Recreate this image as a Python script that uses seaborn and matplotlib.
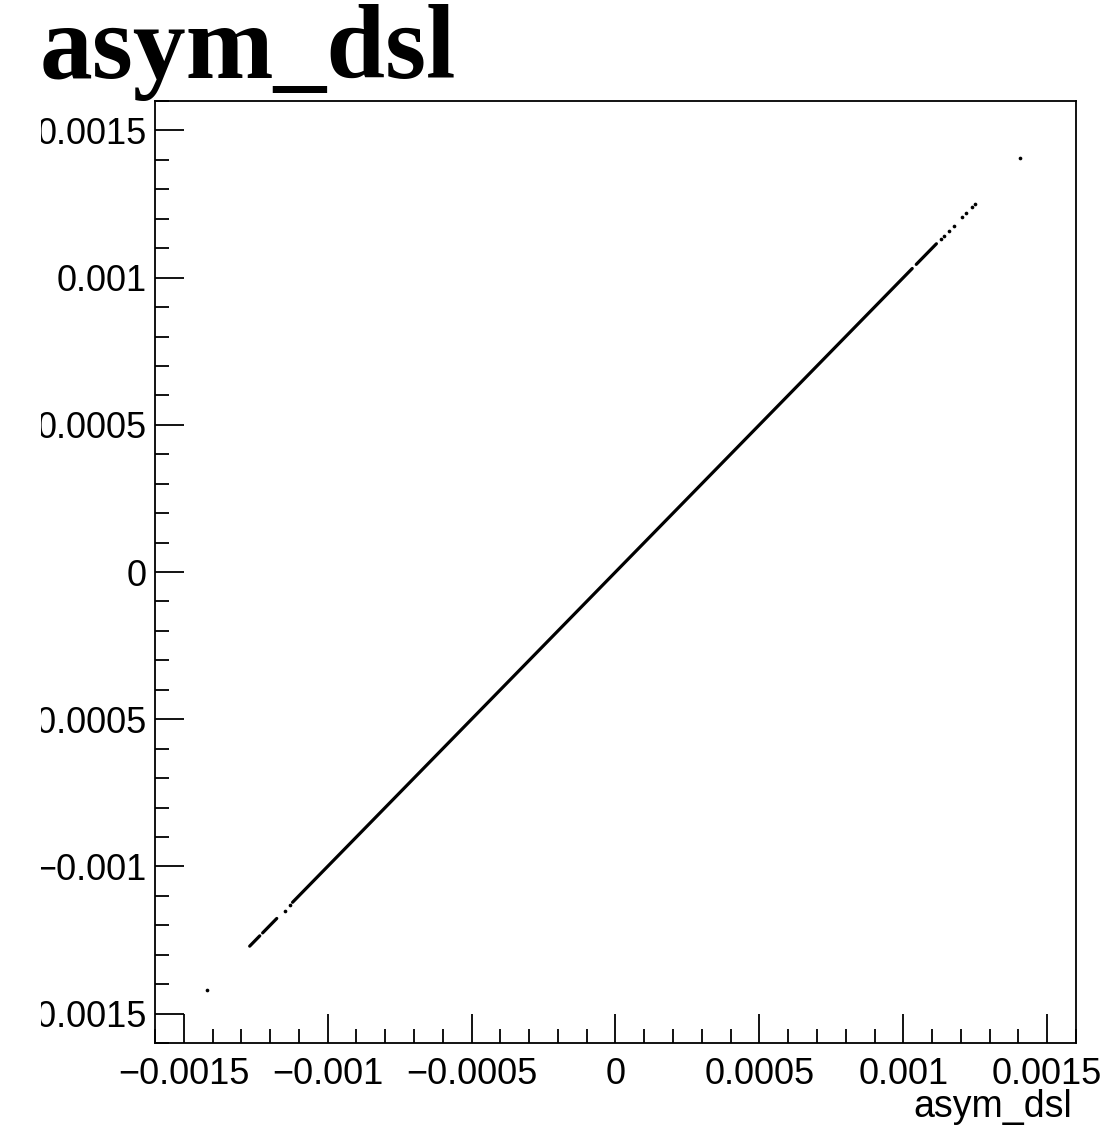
import numpy as np
import pandas as pd
import matplotlib
matplotlib.use("Agg")
import matplotlib.pyplot as plt
from matplotlib.transforms import Bbox, TransformedBbox
import seaborn as sns

sns.set_style("white")
plt.rcParams["font.family"] = ["Liberation Sans", "DejaVu Sans"]
plt.rcParams["text.color"] = "black"
plt.rcParams["axes.labelcolor"] = "black"

# asym_dsl drawn against itself, so each event sits on the diagonal.
# dense stretches of events (drawn as connected runs)
dense_run = [-0.001122, -0.00110, -0.00100, -0.00090, -0.00080, -0.00070,
             -0.00060, -0.00050, -0.00040, -0.00030, -0.00020, -0.00010,
             0.0, 0.00010, 0.00020, 0.00030, 0.00040, 0.00050, 0.00060,
             0.00070, 0.00080, 0.00090, 0.00100, 0.001031]
dash_low_a = [-0.001271, -0.001236]
dash_low_b = [-0.001226, -0.001177]
dash_high = [0.001045, 0.001115]

# isolated events
single_events = [-0.00142, -0.00115, -0.00113, 0.001132, 0.001142,
                 0.00116, 0.001177, 0.001205, 0.001219, 0.00124, 0.00125,
                 0.001406]

tick_values = [-0.0015, -0.001, -0.0005, 0.0, 0.0005, 0.001, 0.0015]
tick_labels = ["\u22120.0015", "\u22120.001", "\u22120.0005", "0",
               "0.0005", "0.001", "0.0015"]

runs = []
for i, run in enumerate([dense_run, dash_low_a, dash_low_b, dash_high]):
    for v in run:
        runs.append({"run": i, "asym_dsl": v})
runs = pd.DataFrame(runs)
singles = pd.DataFrame({"asym_dsl": single_events})

fig = plt.figure(figsize=(11.07, 11.41), dpi=100)
ax = fig.add_axes([155 / 1107, 1 - 1043 / 1141, 921 / 1107, 942 / 1141])

sns.lineplot(data=runs, x="asym_dsl", y="asym_dsl", units="run",
             estimator=None, sort=False, color="black", lw=2.3, ax=ax)
sns.scatterplot(data=singles, x="asym_dsl", y="asym_dsl", color="black",
                s=7, linewidth=0, ax=ax)

ax.set_xlim(-0.0016, 0.0016)
ax.set_ylim(-0.0016, 0.0016)

ax.set_xticks(tick_values)
ax.set_xticklabels(tick_labels)
ax.set_yticks(tick_values)
ax.set_yticklabels(tick_labels)
ax.set_xticks(np.arange(-0.0016, 0.00161, 0.0001), minor=True)
ax.set_yticks(np.arange(-0.0016, 0.00161, 0.0001), minor=True)

ax.tick_params(axis="both", which="both", direction="in", colors="black",
               width=1.3, labelsize=26, bottom=True, left=True,
               top=False, right=False)
ax.tick_params(axis="both", which="major", length=21)
ax.tick_params(axis="both", which="minor", length=10)
ax.tick_params(axis="x", which="major", pad=10)
ax.tick_params(axis="y", which="major", pad=6)

for sp in ax.spines.values():
    sp.set_visible(True)
    sp.set_color("black")
    sp.set_linewidth(1.3)

ax.set_ylabel("")
ax.set_xlabel("asym_dsl", fontsize=27, color="black", ha="right",
              va="baseline")
ax.xaxis.set_label_coords((1072 - 155) / 921, (1043 - 1117) / 942)

# tick labels are cut at the left edge of the pad
clip = TransformedBbox(Bbox([[41 / 1107, 0], [1, 1]]), fig.transFigure)
for lab in ax.get_yticklabels():
    lab.set_clip_box(clip)
    lab.set_clip_on(True)

fig.text(40 / 1107, 1 - 78 / 1141, "asym_dsl", fontsize=76, color="black",
         fontweight="bold", family=["Liberation Serif", "DejaVu Serif"],
         ha="left", va="baseline")

fig.savefig("out.png", dpi=100, facecolor="white")
